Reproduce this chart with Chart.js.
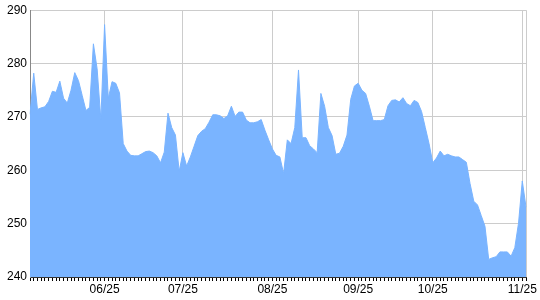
<!DOCTYPE html>
<html>
<head>
<meta charset="utf-8">
<script src="https://cdn.jsdelivr.net/npm/chart.js@4"></script>
<style>
  html, body { margin: 0; padding: 0; background: #fff; }
  canvas { display: block; }
</style>
</head>
<body>
<canvas id="priceChart" width="540" height="300"></canvas>
<script>
// Daily closing values
const closes = [
  270.5, 278.2, 271.4, 271.7, 271.9, 272.9, 274.8, 274.6, 276.7, 273.5,
  272.6, 275.0, 278.3, 276.8, 274.0, 271.2, 271.8, 283.7, 279.0, 269.5,
  287.3, 273.5, 276.6, 276.3, 274.5, 265.0, 263.6, 262.8, 262.7, 262.7,
  263.1, 263.5, 263.6, 263.3, 262.7, 261.4, 263.4, 270.7, 268.0, 266.6,
  259.8, 263.3, 260.8, 262.5, 264.5, 266.5, 267.3, 267.8, 269.0, 270.4,
  270.4, 270.2, 269.7, 270.2, 272.0, 270.1, 270.9, 270.9, 269.4, 268.9,
  268.9, 269.1, 269.5, 267.5, 265.7, 264.0, 262.8, 262.5, 259.4, 265.7,
  265.0, 268.0, 278.8, 266.1, 266.1, 264.6, 264.0, 263.3, 274.4, 272.0,
  268.0, 266.5, 263.0, 263.2, 264.5, 266.6, 273.3, 275.8, 276.3, 275.0,
  274.4, 272.0, 269.3, 269.3, 269.3, 269.5, 272.1, 273.1, 273.2, 272.8,
  273.6, 272.5, 272.1, 273.1, 272.7, 271.0, 268.0, 265.0, 261.4, 262.3,
  263.6, 262.7, 263.0, 262.7, 262.5, 262.5, 262.0, 261.5, 257.5, 254.2,
  253.5, 251.5, 249.5, 243.3, 243.6, 243.8, 244.7, 244.7, 244.7, 243.9,
  245.5, 250.1, 258.0, 253.1
];

// Month labels and the trading-day index they sit on
const monthLabels = ['06/25', '07/25', '08/25', '09/25', '10/25', '11/25'];
const monthIndex = [20, 41, 65, 88, 108, 132];

const yTicks = [240, 250, 260, 270, 280, 290];

// One category per trading day, only month starts get text
const labels = closes.map((v, i) => {
    const k = monthIndex.indexOf(i);
    return k >= 0 ? monthLabels[k] : '';
});

const FONT = { family: 'Arial, "Liberation Sans", sans-serif', size: 12 };

const ctx = document.getElementById('priceChart').getContext('2d');
const priceChart = new Chart(ctx, {
    type: 'line',
    data: {
        labels: labels,
        datasets: [{
            data: closes,
            backgroundColor: '#7ab4ff',
            borderColor: '#7ab4ff',
            borderWidth: 1,
            pointRadius: 0,
            tension: 0,
            fill: 'start'
        }]
    },
    options: {
        responsive: false,
        animation: false,
        devicePixelRatio: 1,
        layout: {
            padding: { left: 0, right: 14, top: 8, bottom: 0 }
        },
        plugins: {
            legend: { display: false },
            tooltip: { enabled: false }
        },
        scales: {
            x: {
                type: 'category',
                offset: false,
                grid: {
                    color: c => (c.tick && (c.tick.label !== '' || c.index === closes.length - 1)) ? '#cccccc' : 'rgba(0,0,0,0)',
                    tickColor: '#000',
                    tickLength: 4,
                    drawOnChartArea: true,
                    drawTicks: true
                },
                border: { color: '#333', width: 1 },
                ticks: {
                    autoSkip: false,
                    maxRotation: 0,
                    minRotation: 0,
                    padding: 1,
                    color: '#000',
                    font: FONT
                },
                afterFit: scale => { scale.height = 23; }
            },
            y: {
                min: yTicks[0],
                max: yTicks[yTicks.length - 1],
                afterBuildTicks: scale => {
                    scale.ticks = yTicks.map(v => ({ value: v }));
                },
                grid: {
                    color: '#cccccc',
                    drawTicks: false
                },
                border: { color: '#888', width: 1 },
                ticks: {
                    padding: 3,
                    color: '#000',
                    font: FONT
                },
                afterFit: scale => { scale.width = 30; }
            }
        }
    }
});
</script>
</body>
</html>
